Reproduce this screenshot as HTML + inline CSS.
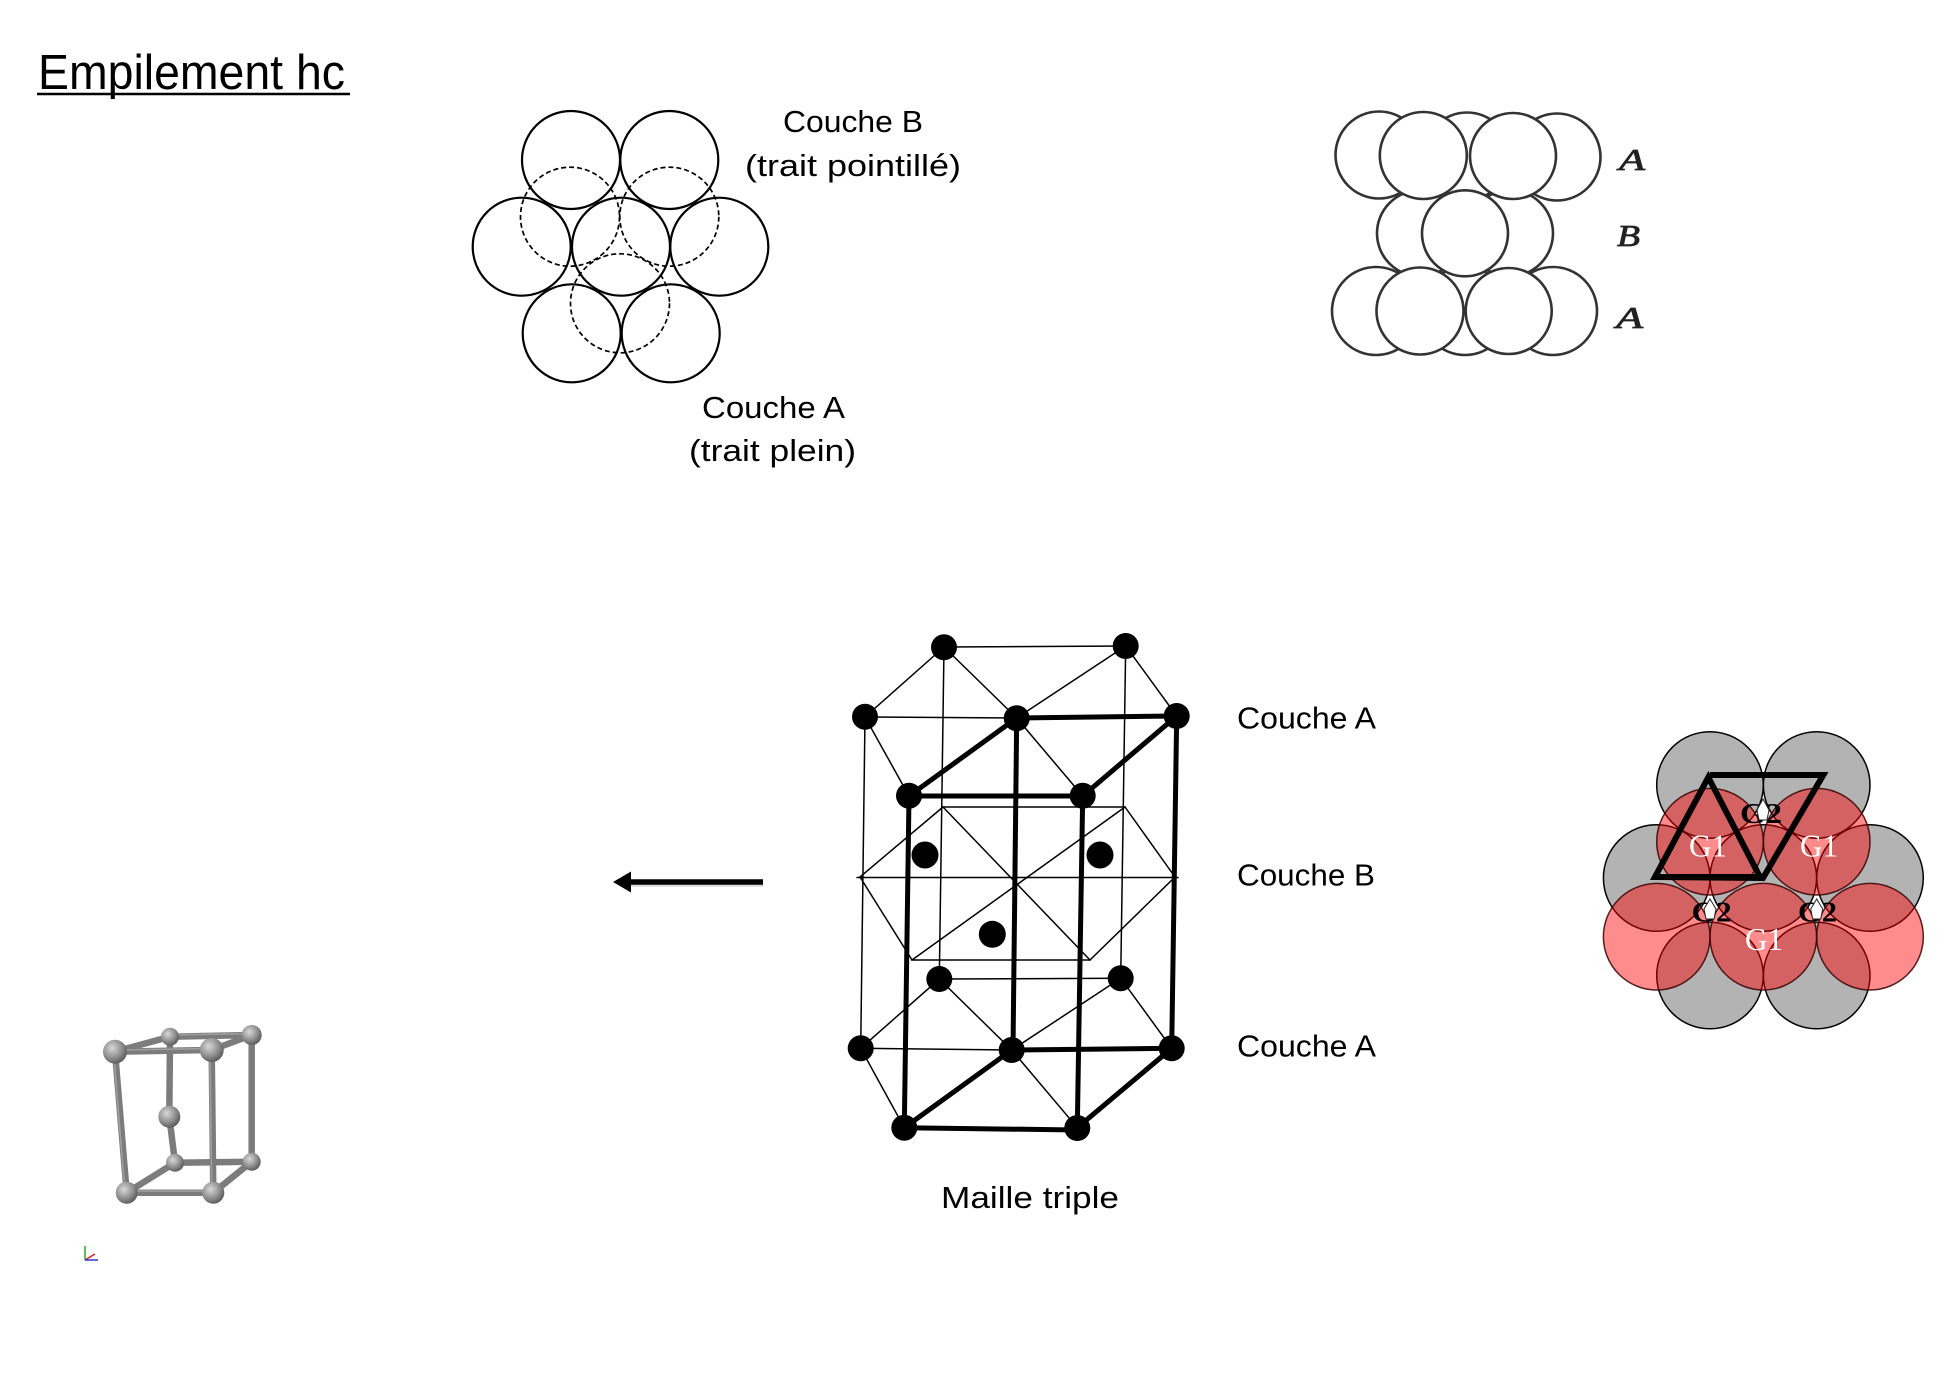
<!DOCTYPE html>
<html><head><meta charset="utf-8"><style>
html,body{margin:0;padding:0;background:#fff;}
svg{display:block;}
</style></head><body>
<svg width="1954" height="1380" viewBox="0 0 1954 1380" xmlns="http://www.w3.org/2000/svg">
<defs>
<radialGradient id="ball" cx="0.38" cy="0.35" r="0.7">
<stop offset="0" stop-color="#d8d8d8"/>
<stop offset="0.6" stop-color="#8e8e8e"/>
<stop offset="1" stop-color="#555"/>
</radialGradient>
</defs>
<rect width="1954" height="1380" fill="#fff"/>

<!-- Title -->
<text x="38" y="89" font-family="Liberation Sans, sans-serif" font-size="49" textLength="307" lengthAdjust="spacingAndGlyphs" fill="#000">Empilement hc</text>
<line x1="37" y1="94" x2="350" y2="94" stroke="#000" stroke-width="2.5"/>

<!-- Top-middle circles -->
<g fill="none" stroke="#000" stroke-width="2.2">
<circle cx="571" cy="160" r="49"/>
<circle cx="669.3" cy="160" r="49"/>
<circle cx="521.7" cy="246.7" r="49"/>
<circle cx="621" cy="246.7" r="49"/>
<circle cx="719.3" cy="246.7" r="49"/>
<circle cx="571.7" cy="333.3" r="49"/>
<circle cx="670.7" cy="333.3" r="49"/>
</g>
<g fill="none" stroke="#000" stroke-width="1.7" stroke-dasharray="5 3">
<circle cx="570" cy="216.7" r="49.5"/>
<circle cx="669.3" cy="216.7" r="49.5"/>
<circle cx="620" cy="303.3" r="49.5"/>
</g>
<g font-family="Liberation Sans, sans-serif" font-size="31" fill="#000">
<text x="783" y="132" textLength="140" lengthAdjust="spacingAndGlyphs">Couche B</text>
<text x="745" y="176" textLength="216" lengthAdjust="spacingAndGlyphs">(trait pointillé)</text>
<text x="702" y="418" textLength="143" lengthAdjust="spacingAndGlyphs">Couche A</text>
<text x="689" y="461" textLength="167" lengthAdjust="spacingAndGlyphs">(trait plein)</text>
</g>

<!-- Top-right ABA side view -->
<g fill="#fff" stroke="#333" stroke-width="2.6">
<circle cx="1379" cy="155" r="43.5"/>
<circle cx="1467" cy="156" r="43.5"/>
<circle cx="1557" cy="157" r="43.5"/>
<circle cx="1376" cy="311" r="44"/>
<circle cx="1465" cy="311" r="44"/>
<circle cx="1553" cy="311" r="44"/>
<circle cx="1420" cy="233.3" r="43"/>
<circle cx="1510" cy="233.3" r="43"/>
<circle cx="1423.3" cy="155.5" r="43.5"/>
<circle cx="1513" cy="156" r="43"/>
<circle cx="1420" cy="311" r="43.5"/>
<circle cx="1508.7" cy="311" r="43"/>
<circle cx="1465" cy="233.3" r="43"/>
</g>
<g font-family="Liberation Serif, serif" font-style="italic" font-size="31" fill="#222" stroke="#222" stroke-width="0.8">
<text x="1619" y="170" textLength="26" lengthAdjust="spacingAndGlyphs">A</text>
<text x="1617" y="246" textLength="23" lengthAdjust="spacingAndGlyphs">B</text>
<text x="1616" y="328" textLength="27" lengthAdjust="spacingAndGlyphs">A</text>
</g>

<!-- Arrow -->
<line x1="630" y1="885" x2="763" y2="885" stroke="#ddd" stroke-width="4"/>
<line x1="628" y1="882" x2="763" y2="882" stroke="#000" stroke-width="5.5"/>
<polygon points="613,882 631,871.5 631,892.5" fill="#000"/>

<!-- Hex cell -->
<g stroke="#000" stroke-width="1.5" fill="none" stroke-linecap="round">
<line x1="944" y1="647" x2="1125.7" y2="646"/>
<line x1="944" y1="647" x2="865" y2="717"/>
<line x1="944" y1="647" x2="1016.7" y2="718"/>
<line x1="1125.7" y1="646" x2="1016.7" y2="718"/>
<line x1="1125.7" y1="646" x2="1176.7" y2="716"/>
<line x1="865" y1="717" x2="1016.7" y2="718"/>
<line x1="865" y1="717" x2="909" y2="796"/>
<line x1="1016.7" y1="718" x2="1082.7" y2="796"/>
<line x1="944" y1="647" x2="939.3" y2="979"/>
<line x1="1125.7" y1="646" x2="1120.7" y2="978.3"/>
<line x1="865" y1="717" x2="860.7" y2="1048.3"/>
<line x1="943" y1="807" x2="1125" y2="807"/>
<line x1="1125" y1="807" x2="1175" y2="877"/>
<line x1="1175" y1="877" x2="1090" y2="960"/>
<line x1="1090" y1="960" x2="912" y2="960"/>
<line x1="912" y1="960" x2="860" y2="877"/>
<line x1="860" y1="877" x2="943" y2="807"/>
<line x1="857" y1="877.5" x2="1178" y2="877.5"/>
<line x1="943" y1="807" x2="1090" y2="960"/>
<line x1="1125" y1="807" x2="912" y2="960"/>
<line x1="939.3" y1="979" x2="1120.7" y2="978.3"/>
<line x1="939.3" y1="979" x2="860.7" y2="1048.3"/>
<line x1="939.3" y1="979" x2="1011.7" y2="1050"/>
<line x1="1120.7" y1="978.3" x2="1011.7" y2="1050"/>
<line x1="1120.7" y1="978.3" x2="1171.7" y2="1048.3"/>
<line x1="860.7" y1="1048.3" x2="1011.7" y2="1050"/>
<line x1="860.7" y1="1048.3" x2="904.3" y2="1127.7"/>
<line x1="1011.7" y1="1050" x2="1077.3" y2="1127.7"/>
</g>
<g stroke="#000" stroke-width="5" fill="none" stroke-linecap="round">
<line x1="909" y1="796" x2="1082.7" y2="796"/>
<line x1="909" y1="796" x2="1016.7" y2="718"/>
<line x1="1016.7" y1="718" x2="1176.7" y2="716"/>
<line x1="1082.7" y1="796" x2="1176.7" y2="716"/>
<line x1="909" y1="796" x2="904.3" y2="1127.7"/>
<line x1="1016.7" y1="718" x2="1013" y2="1050"/>
<line x1="1082.7" y1="796" x2="1077.3" y2="1127.7"/>
<line x1="1176.7" y1="716" x2="1171.7" y2="1048.3"/>
<line x1="904.3" y1="1127.7" x2="1077.3" y2="1130"/>
<line x1="904.3" y1="1127.7" x2="1011.7" y2="1050"/>
<line x1="1011.7" y1="1050" x2="1171.7" y2="1048.3"/>
<line x1="1077.3" y1="1127.7" x2="1171.7" y2="1048.3"/>
</g>
<g fill="#000">
<circle cx="944" cy="647.3" r="13"/>
<circle cx="1125.7" cy="646" r="13"/>
<circle cx="865" cy="716.7" r="13"/>
<circle cx="1016.7" cy="718.3" r="13"/>
<circle cx="1176.7" cy="716" r="13"/>
<circle cx="909" cy="795.7" r="13"/>
<circle cx="1082.7" cy="795.7" r="13"/>
<circle cx="925" cy="855" r="13.5"/>
<circle cx="1100" cy="855" r="13.5"/>
<circle cx="992.3" cy="934.3" r="13.5"/>
<circle cx="939.3" cy="979" r="13"/>
<circle cx="1120.7" cy="978.3" r="13"/>
<circle cx="860.7" cy="1048.3" r="13"/>
<circle cx="1011.7" cy="1050" r="13"/>
<circle cx="1171.7" cy="1048.3" r="13"/>
<circle cx="904.3" cy="1127.7" r="13"/>
<circle cx="1077.3" cy="1128" r="13"/>
</g>
<g font-family="Liberation Sans, sans-serif" font-size="31" fill="#000">
<text x="1237" y="728.5" textLength="139" lengthAdjust="spacingAndGlyphs">Couche A</text>
<text x="1237" y="885.4" textLength="138" lengthAdjust="spacingAndGlyphs">Couche B</text>
<text x="1237" y="1056.5" textLength="139" lengthAdjust="spacingAndGlyphs">Couche A</text>
<text x="941" y="1208" textLength="178" lengthAdjust="spacingAndGlyphs">Maille triple</text>
</g>

<!-- Right colored circles -->
<g fill="#b3b3b3" stroke="#000" stroke-width="1.5">
<circle cx="1710" cy="785" r="53.3"/>
<circle cx="1816.7" cy="785" r="53.3"/>
<circle cx="1656.7" cy="878" r="53.3"/>
<circle cx="1763.3" cy="878" r="53.3"/>
<circle cx="1870" cy="878" r="53.3"/>
<circle cx="1710" cy="975.5" r="53.3"/>
<circle cx="1816.7" cy="975.5" r="53.3"/>
</g>
<g fill="#ff0000" fill-opacity="0.45" stroke="#3a0000" stroke-width="1.5" stroke-opacity="0.85">
<circle cx="1710" cy="841.7" r="53.3"/>
<circle cx="1816.7" cy="841.7" r="53.3"/>
<circle cx="1656.7" cy="936.7" r="53.3"/>
<circle cx="1763.3" cy="936.7" r="53.3"/>
<circle cx="1870" cy="936.7" r="53.3"/>
</g>
<g stroke="#000" stroke-width="6" fill="none" stroke-linejoin="miter">
<polygon points="1708.3,777.3 1655,877 1760,877"/>
<polyline points="1710,775 1823.3,775 1763,878 1655,877"/>
</g>
<g font-family="Liberation Serif, serif" font-size="32" fill="#fff">
<text x="1689" y="856.7" textLength="38" lengthAdjust="spacingAndGlyphs">G1</text>
<text x="1800" y="856.7" textLength="38" lengthAdjust="spacingAndGlyphs">G1</text>
<text x="1745" y="950" textLength="38" lengthAdjust="spacingAndGlyphs">G1</text>
</g>
<g font-family="Liberation Serif, serif" font-size="28" font-weight="bold" fill="#000">
<text x="1740" y="823" textLength="42" lengthAdjust="spacingAndGlyphs">G2</text>
<text x="1691.7" y="921.7" textLength="40" lengthAdjust="spacingAndGlyphs">G2</text>
<text x="1798" y="921.7" textLength="39" lengthAdjust="spacingAndGlyphs">G2</text>
</g>
<g fill="#fff" stroke="#222" stroke-width="1">
<polygon points="1763,799 1769,810 1767,820 1759,820 1757,810"/>
<polygon points="1710,899 1716,909 1714,919 1706,919 1704,909"/>
<polygon points="1816.7,899 1822.7,909 1820.7,919 1812.7,919 1810.7,909"/>
</g>

<!-- Bottom-left small 3D cell -->
<g stroke="#7c7c7c" stroke-width="6.5" stroke-linecap="round" fill="none">
<line x1="170" y1="1036.7" x2="251.7" y2="1035"/>
<line x1="251.7" y1="1035" x2="251.7" y2="1161.7"/>
<line x1="170" y1="1036.7" x2="169.3" y2="1116.7"/>
<line x1="169.3" y1="1116.7" x2="175" y2="1162.7"/>
<line x1="175" y1="1162.7" x2="251.7" y2="1161.7"/>
<line x1="175" y1="1162.7" x2="126.7" y2="1192.7"/>
<line x1="251.7" y1="1161.7" x2="213.3" y2="1192.7"/>
<line x1="115" y1="1051.7" x2="170" y2="1036.7"/>
<line x1="211.7" y1="1050" x2="251.7" y2="1035"/>
<line x1="115" y1="1051.7" x2="211.7" y2="1050"/>
<line x1="115" y1="1051.7" x2="126.7" y2="1192.7"/>
<line x1="211.7" y1="1050" x2="213.3" y2="1192.7"/>
<line x1="126.7" y1="1192.7" x2="213.3" y2="1192.7"/>
</g>
<g stroke="#a9a9a9" stroke-width="1.5" fill="none" opacity="0.8">
<line x1="170" y1="1035" x2="251.7" y2="1033.5"/>
<line x1="115" y1="1050" x2="211.7" y2="1048.5"/>
<line x1="113.5" y1="1051.7" x2="125" y2="1192.7"/>
<line x1="210" y1="1050" x2="211.7" y2="1192.7"/>
<line x1="126.7" y1="1191" x2="213.3" y2="1191"/>
</g>
<g fill="url(#ball)">
<circle cx="170" cy="1036.7" r="9"/>
<circle cx="251.7" cy="1035" r="10"/>
<circle cx="169.3" cy="1116.7" r="11"/>
<circle cx="175" cy="1162.7" r="9"/>
<circle cx="251.7" cy="1161.7" r="9"/>
<circle cx="115" cy="1051.7" r="12"/>
<circle cx="211.7" cy="1050" r="12"/>
<circle cx="126.7" cy="1192.7" r="11"/>
<circle cx="213.3" cy="1192.7" r="11"/>
</g>
<line x1="85" y1="1246" x2="85" y2="1260" stroke="#2a2" stroke-width="1.5"/>
<line x1="85" y1="1260" x2="95" y2="1254" stroke="#d22" stroke-width="1.5"/>
<line x1="85" y1="1260" x2="98" y2="1260" stroke="#33c" stroke-width="1.5"/>
</svg>
</body></html>
